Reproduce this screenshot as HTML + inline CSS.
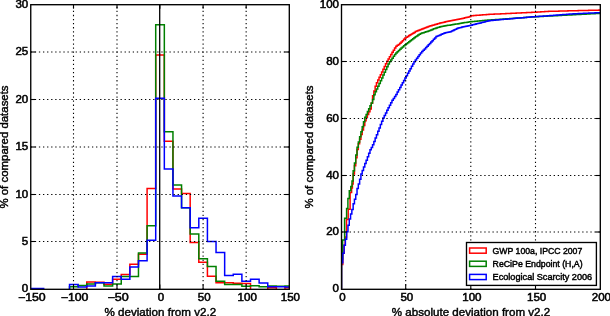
<!DOCTYPE html>
<html><head><meta charset="utf-8"><style>
html,body{margin:0;padding:0;background:#fff;}
body{width:610px;height:316px;overflow:hidden;}
svg{display:block;font-family:"Liberation Sans", sans-serif;}
</style></head><body>
<svg width="610" height="316" viewBox="0 0 610 316">
<rect width="610" height="316" fill="#fff"/>
<defs><clipPath id="cl"><rect x="30.75" y="4.70" width="258.55" height="284.60"/></clipPath><clipPath id="cr"><rect x="341.50" y="4.70" width="258.80" height="284.60"/></clipPath></defs>
<path clip-path="url(#cl)" d="M17.82,290.30 L17.82,290.30 L26.44,290.30 L26.44,290.30 L35.06,290.30 L35.06,290.30 L43.68,290.30 L43.68,290.30 L52.30,290.30 L52.30,290.30 L60.91,290.30 L60.91,290.30 L69.53,290.30 L69.53,290.30 L78.15,290.30 L78.15,290.30 L86.77,290.30 L86.77,282.11 L95.39,282.11 L95.39,282.30 L104.00,282.30 L104.00,284.19 L112.62,284.19 L112.62,279.36 L121.24,279.36 L121.24,274.44 L129.86,274.44 L129.86,264.22 L138.47,264.22 L138.47,254.28 L147.09,254.28 L147.09,188.48 L155.71,188.48 L155.71,55.00 L164.33,55.00 L164.33,141.14 L172.95,141.14 L172.95,189.05 L181.56,189.05 L181.56,193.50 L190.18,193.50 L190.18,242.44 L198.80,242.44 L198.80,262.23 L207.42,262.23 L207.42,276.33 L216.04,276.33 L216.04,282.77 L224.66,282.77 L224.66,282.77 L233.27,282.77 L233.27,283.24 L241.89,283.24 L241.89,283.53 L250.51,283.53 L250.51,290.30 L259.13,290.30 L259.13,290.30 L267.75,290.30 L267.75,287.69 L276.36,287.69 L276.36,290.30 L284.98,290.30 L284.98,287.69 L293.60,287.69 L293.60,287.69 L302.22,287.69 L302.22,290.30" fill="none" stroke="#ff0000" stroke-width="1.5"/>
<path clip-path="url(#cl)" d="M17.82,290.30 L17.82,290.30 L26.44,290.30 L26.44,290.30 L35.06,290.30 L35.06,290.30 L43.68,290.30 L43.68,290.30 L52.30,290.30 L52.30,290.30 L60.91,290.30 L60.91,290.30 L69.53,290.30 L69.53,286.75 L78.15,286.75 L78.15,285.52 L86.77,285.52 L86.77,283.91 L95.39,283.91 L95.39,282.77 L104.00,282.77 L104.00,286.08 L112.62,286.08 L112.62,283.91 L121.24,283.91 L121.24,276.62 L129.86,276.62 L129.86,276.62 L138.47,276.62 L138.47,253.04 L147.09,253.04 L147.09,225.87 L155.71,225.87 L155.71,24.70 L164.33,24.70 L164.33,131.68 L172.95,131.68 L172.95,185.07 L181.56,185.07 L181.56,207.70 L190.18,207.70 L190.18,233.92 L198.80,233.92 L198.80,258.72 L207.42,258.72 L207.42,266.49 L216.04,266.49 L216.04,281.26 L224.66,281.26 L224.66,284.48 L233.27,284.48 L233.27,284.48 L241.89,284.48 L241.89,286.18 L250.51,286.18 L250.51,285.80 L259.13,285.80 L259.13,286.75 L267.75,286.75 L267.75,285.99 L276.36,285.99 L276.36,286.27 L284.98,286.27 L284.98,285.99 L293.60,285.99 L293.60,285.99 L302.22,285.99 L302.22,290.30" fill="none" stroke="#008000" stroke-width="1.5"/>
<path clip-path="url(#cl)" d="M17.82,290.30 L17.82,288.45 L26.44,288.45 L26.44,288.45 L35.06,288.45 L35.06,288.45 L43.68,288.45 L43.68,290.30 L52.30,290.30 L52.30,290.30 L60.91,290.30 L60.91,290.30 L69.53,290.30 L69.53,284.57 L78.15,284.57 L78.15,286.94 L86.77,286.94 L86.77,285.99 L95.39,285.99 L95.39,282.77 L104.00,282.77 L104.00,282.77 L112.62,282.77 L112.62,276.43 L121.24,276.43 L121.24,279.27 L129.86,279.27 L129.86,267.06 L138.47,267.06 L138.47,260.71 L147.09,260.71 L147.09,240.17 L155.71,240.17 L155.71,98.35 L164.33,98.35 L164.33,168.88 L172.95,168.88 L172.95,196.05 L181.56,196.05 L181.56,207.70 L190.18,207.70 L190.18,227.86 L198.80,227.86 L198.80,218.21 L207.42,218.21 L207.42,241.49 L216.04,241.49 L216.04,252.48 L224.66,252.48 L224.66,275.58 L233.27,275.58 L233.27,274.16 L241.89,274.16 L241.89,281.26 L250.51,281.26 L250.51,279.17 L259.13,279.17 L259.13,282.96 L267.75,282.96 L267.75,286.65 L276.36,286.65 L276.36,286.65 L284.98,286.65 L284.98,286.94 L293.60,286.94 L293.60,286.94 L302.22,286.94 L302.22,290.30" fill="none" stroke="#0000ff" stroke-width="1.5"/>
<line x1="73.50" y1="289.50" x2="73.50" y2="4.70" stroke="#000" stroke-width="1.1" stroke-dasharray="1.3 2.78"/>
<line x1="117.00" y1="289.50" x2="117.00" y2="4.70" stroke="#000" stroke-width="1.1" stroke-dasharray="1.3 2.78"/>
<line x1="203.10" y1="289.50" x2="203.10" y2="4.70" stroke="#000" stroke-width="1.1" stroke-dasharray="1.3 2.78"/>
<line x1="246.15" y1="289.50" x2="246.15" y2="4.70" stroke="#000" stroke-width="1.1" stroke-dasharray="1.3 2.78"/>
<line x1="30.75" y1="241.50" x2="289.30" y2="241.50" stroke="#000" stroke-width="1.1" stroke-dasharray="1.3 2.78"/>
<line x1="30.75" y1="194.50" x2="289.30" y2="194.50" stroke="#000" stroke-width="1.1" stroke-dasharray="1.3 2.78"/>
<line x1="30.75" y1="147.00" x2="289.30" y2="147.00" stroke="#000" stroke-width="1.1" stroke-dasharray="1.3 2.78"/>
<line x1="30.75" y1="99.50" x2="289.30" y2="99.50" stroke="#000" stroke-width="1.1" stroke-dasharray="1.3 2.78"/>
<line x1="30.75" y1="52.00" x2="289.30" y2="52.00" stroke="#000" stroke-width="1.1" stroke-dasharray="1.3 2.78"/>
<line x1="159.70" y1="289.30" x2="159.70" y2="4.70" stroke="#000" stroke-width="1.3"/>
<line x1="73.50" y1="289.30" x2="73.50" y2="284.50" stroke="#000" stroke-width="1.1"/>
<line x1="73.50" y1="4.70" x2="73.50" y2="8.70" stroke="#000" stroke-width="1.1"/>
<line x1="117.00" y1="289.30" x2="117.00" y2="284.50" stroke="#000" stroke-width="1.1"/>
<line x1="117.00" y1="4.70" x2="117.00" y2="8.70" stroke="#000" stroke-width="1.1"/>
<line x1="159.85" y1="289.30" x2="159.85" y2="284.50" stroke="#000" stroke-width="1.1"/>
<line x1="159.85" y1="4.70" x2="159.85" y2="8.70" stroke="#000" stroke-width="1.1"/>
<line x1="203.10" y1="289.30" x2="203.10" y2="284.50" stroke="#000" stroke-width="1.1"/>
<line x1="203.10" y1="4.70" x2="203.10" y2="8.70" stroke="#000" stroke-width="1.1"/>
<line x1="246.15" y1="289.30" x2="246.15" y2="284.50" stroke="#000" stroke-width="1.1"/>
<line x1="246.15" y1="4.70" x2="246.15" y2="8.70" stroke="#000" stroke-width="1.1"/>
<line x1="30.75" y1="241.50" x2="35.55" y2="241.50" stroke="#000" stroke-width="1.1"/>
<line x1="289.30" y1="241.50" x2="284.50" y2="241.50" stroke="#000" stroke-width="1.1"/>
<line x1="30.75" y1="194.50" x2="35.55" y2="194.50" stroke="#000" stroke-width="1.1"/>
<line x1="289.30" y1="194.50" x2="284.50" y2="194.50" stroke="#000" stroke-width="1.1"/>
<line x1="30.75" y1="147.00" x2="35.55" y2="147.00" stroke="#000" stroke-width="1.1"/>
<line x1="289.30" y1="147.00" x2="284.50" y2="147.00" stroke="#000" stroke-width="1.1"/>
<line x1="30.75" y1="99.50" x2="35.55" y2="99.50" stroke="#000" stroke-width="1.1"/>
<line x1="289.30" y1="99.50" x2="284.50" y2="99.50" stroke="#000" stroke-width="1.1"/>
<line x1="30.75" y1="52.00" x2="35.55" y2="52.00" stroke="#000" stroke-width="1.1"/>
<line x1="289.30" y1="52.00" x2="284.50" y2="52.00" stroke="#000" stroke-width="1.1"/>
<rect x="30.75" y="4.70" width="258.55" height="284.60" fill="none" stroke="#000" stroke-width="1.35"/>
<path clip-path="url(#cr)" d="M341.50,288.83 L341.50,264.40 L342.80,264.40 L342.80,253.30 L344.10,253.30 L344.10,245.30 L345.20,245.30 L345.20,237.00 L346.50,237.00 L346.50,219.50 L348.20,219.50 L348.20,209.30 L350.10,209.30 L350.10,192.40 L351.60,192.40 L351.60,188.00 L352.40,188.00 L352.40,184.00 L353.15,184.00 L353.15,173.92 L354.44,173.92 L354.44,165.81 L355.73,165.81 L355.73,157.69 L357.03,157.69 L357.03,149.57 L358.32,149.57 L358.32,143.78 L359.62,143.78 L359.62,139.20 L360.91,139.20 L360.91,134.62 L362.20,134.62 L362.20,130.04 L363.50,130.04 L363.50,125.45 L364.79,125.45 L364.79,120.87 L366.09,120.87 L366.09,117.15 L367.38,117.15 L367.38,114.46 L368.67,114.46 L368.67,111.77 L369.97,111.77 L369.97,109.08 L371.26,109.08 L371.26,103.23 L372.56,103.23 L372.56,95.71 L373.85,95.71 L373.85,90.96 L375.14,90.96 L375.14,86.34 L376.44,86.34 L376.44,82.78 L377.73,82.78 L377.73,80.07 L379.03,80.07 L379.03,77.37 L380.32,77.37 L380.32,74.66 L381.61,74.66 L381.61,71.96 L382.91,71.96 L382.91,69.25 L384.20,69.25 L384.20,66.55 L385.50,66.55 L385.50,63.84 L386.79,63.84 L386.79,61.21 L388.08,61.21 L388.08,58.99 L389.38,58.99 L389.38,56.78 L390.67,56.78 L390.67,54.57 L391.97,54.57 L391.97,52.35 L393.26,52.35 L393.26,50.14 L394.55,50.14 L394.55,47.92 L395.85,47.92 L395.85,46.19 L397.14,46.19 L397.14,45.34 L398.44,45.34 L398.44,44.50 L399.73,44.50 L399.73,43.34 L401.02,43.34 L401.02,42.01 L402.32,42.01 L402.32,40.68 L403.61,40.68 L403.61,39.36 L404.91,39.36 L404.91,38.03 L406.20,38.03 L406.20,37.20 L407.49,37.20 L407.49,36.40 L408.79,36.40 L408.79,35.61 L410.08,35.61 L410.08,34.81 L411.38,34.81 L411.38,34.01 L412.67,34.01 L412.67,33.21 L413.96,33.21 L413.96,32.42 L415.26,32.42 L415.26,31.62 L416.55,31.62 L416.55,31.03 L417.85,31.03 L417.85,30.52 L419.14,30.52 L419.14,30.00 L420.43,30.00 L420.43,29.48 L421.73,29.48 L421.73,28.97 L423.02,28.97 L423.02,28.45 L424.32,28.45 L424.32,27.93 L425.61,27.93 L425.61,27.42 L426.90,27.42 L426.90,26.90 L428.20,26.90 L428.20,26.51 L429.49,26.51 L429.49,26.12 L430.79,26.12 L430.79,25.74 L432.08,25.74 L432.08,25.35 L433.37,25.35 L433.37,24.97 L434.67,24.97 L434.67,24.58 L435.96,24.58 L435.96,24.20 L437.26,24.20 L437.26,23.81 L438.55,23.81 L438.55,23.43 L439.84,23.43 L439.84,23.07 L441.14,23.07 L441.14,22.76 L442.43,22.76 L442.43,22.45 L443.73,22.45 L443.73,22.14 L445.02,22.14 L445.02,21.83 L446.31,21.83 L446.31,21.56 L447.61,21.56 L447.61,21.29 L448.90,21.29 L448.90,21.03 L450.20,21.03 L450.20,20.77 L451.49,20.77 L451.49,20.50 L452.78,20.50 L452.78,20.24 L454.08,20.24 L454.08,19.98 L455.37,19.98 L455.37,19.71 L456.67,19.71 L456.67,19.45 L457.96,19.45 L457.96,19.18 L459.25,19.18 L459.25,18.92 L460.55,18.92 L460.55,18.66 L461.84,18.66 L461.84,18.39 L463.14,18.39 L463.14,18.13 L464.43,18.13 L464.43,17.86 L465.72,17.86 L465.72,17.60 L467.02,17.60 L467.02,17.34 L468.31,17.34 L468.31,17.07 L469.61,17.07 L469.61,16.44 L470.90,16.44 L470.90,15.74 L472.19,15.74 L472.19,15.64 L473.49,15.64 L473.49,15.55 L474.78,15.55 L474.78,15.45 L476.08,15.45 L476.08,15.35 L477.37,15.35 L477.37,15.25 L478.66,15.25 L478.66,15.15 L479.96,15.15 L479.96,15.06 L481.25,15.06 L481.25,14.96 L482.55,14.96 L482.55,14.86 L483.84,14.86 L483.84,14.76 L485.13,14.76 L485.13,14.66 L486.43,14.66 L486.43,14.57 L487.72,14.57 L487.72,14.47 L489.02,14.47 L489.02,14.37 L490.31,14.37 L490.31,14.31 L491.60,14.31 L491.60,14.25 L492.90,14.25 L492.90,14.19 L494.19,14.19 L494.19,14.12 L495.49,14.12 L495.49,14.06 L496.78,14.06 L496.78,14.00 L498.07,14.00 L498.07,13.94 L499.37,13.94 L499.37,13.88 L500.66,13.88 L500.66,13.82 L501.96,13.82 L501.96,13.76 L503.25,13.76 L503.25,13.70 L504.54,13.70 L504.54,13.64 L505.84,13.64 L505.84,13.58 L507.13,13.58 L507.13,13.52 L508.43,13.52 L508.43,13.45 L509.72,13.45 L509.72,13.39 L511.01,13.39 L511.01,13.33 L512.31,13.33 L512.31,13.27 L513.60,13.27 L513.60,13.21 L514.90,13.21 L514.90,13.15 L516.19,13.15 L516.19,13.09 L517.48,13.09 L517.48,13.03 L518.78,13.03 L518.78,12.97 L520.07,12.97 L520.07,12.91 L521.37,12.91 L521.37,12.85 L522.66,12.85 L522.66,12.78 L523.95,12.78 L523.95,12.72 L525.25,12.72 L525.25,12.66 L526.54,12.66 L526.54,12.60 L527.84,12.60 L527.84,12.54 L529.13,12.54 L529.13,12.48 L530.42,12.48 L530.42,12.42 L531.72,12.42 L531.72,12.36 L533.01,12.36 L533.01,12.30 L534.31,12.30 L534.31,12.24 L535.60,12.24 L535.60,12.15 L536.89,12.15 L536.89,12.07 L538.19,12.07 L538.19,11.98 L539.48,11.98 L539.48,11.90 L540.78,11.90 L540.78,11.81 L542.07,11.81 L542.07,11.73 L543.36,11.73 L543.36,11.64 L544.66,11.64 L544.66,11.56 L545.95,11.56 L545.95,11.47 L547.25,11.47 L547.25,11.39 L548.54,11.39 L548.54,11.35 L549.83,11.35 L549.83,11.32 L551.13,11.32 L551.13,11.29 L552.42,11.29 L552.42,11.25 L553.72,11.25 L553.72,11.22 L555.01,11.22 L555.01,11.19 L556.30,11.19 L556.30,11.16 L557.60,11.16 L557.60,11.13 L558.89,11.13 L558.89,11.09 L560.19,11.09 L560.19,11.06 L561.48,11.06 L561.48,11.03 L562.77,11.03 L562.77,11.00 L564.07,11.00 L564.07,10.97 L565.36,10.97 L565.36,10.93 L566.66,10.93 L566.66,10.90 L567.95,10.90 L567.95,10.87 L569.24,10.87 L569.24,10.84 L570.54,10.84 L570.54,10.81 L571.83,10.81 L571.83,10.77 L573.13,10.77 L573.13,10.74 L574.42,10.74 L574.42,10.71 L575.71,10.71 L575.71,10.68 L577.01,10.68 L577.01,10.65 L578.30,10.65 L578.30,10.61 L579.60,10.61 L579.60,10.58 L580.89,10.58 L580.89,10.55 L582.18,10.55 L582.18,10.52 L583.48,10.52 L583.48,10.49 L584.77,10.49 L584.77,10.45 L586.07,10.45 L586.07,10.42 L587.36,10.42 L587.36,10.39 L588.65,10.39 L588.65,10.36 L589.95,10.36 L589.95,10.33 L591.24,10.33 L591.24,10.30 L592.54,10.30 L592.54,10.26 L593.83,10.26 L593.83,10.23 L595.12,10.23 L595.12,10.20 L596.42,10.20 L596.42,10.17 L597.71,10.17 L597.71,10.14 L599.01,10.14 L599.01,10.10 L600.30,10.10 L600.30,10.10 L601.59,10.10 L601.59,10.10 L602.89,10.10" fill="none" stroke="#ff0000" stroke-width="1.5"/>
<path clip-path="url(#cr)" d="M341.50,288.83 L341.50,259.00 L342.60,259.00 L342.60,240.00 L344.60,240.00 L344.60,218.20 L346.60,218.20 L346.60,208.40 L347.90,208.40 L347.90,198.60 L349.30,198.60 L349.30,190.70 L350.80,190.70 L350.80,186.50 L352.00,186.50 L352.00,181.00 L353.15,181.00 L353.15,170.80 L354.44,170.80 L354.44,162.91 L355.73,162.91 L355.73,155.02 L357.03,155.02 L357.03,147.13 L358.32,147.13 L358.32,141.94 L359.62,141.94 L359.62,136.86 L360.91,136.86 L360.91,131.79 L362.20,131.79 L362.20,126.72 L363.50,126.72 L363.50,121.64 L364.79,121.64 L364.79,117.35 L366.09,117.35 L366.09,114.46 L367.38,114.46 L367.38,111.58 L368.67,111.58 L368.67,108.69 L369.97,108.69 L369.97,105.80 L371.26,105.80 L371.26,102.92 L372.56,102.92 L372.56,99.47 L373.85,99.47 L373.85,94.66 L375.14,94.66 L375.14,91.87 L376.44,91.87 L376.44,89.08 L377.73,89.08 L377.73,86.28 L379.03,86.28 L379.03,83.49 L380.32,83.49 L380.32,80.70 L381.61,80.70 L381.61,77.91 L382.91,77.91 L382.91,75.11 L384.20,75.11 L384.20,72.32 L385.50,72.32 L385.50,69.53 L386.79,69.53 L386.79,66.74 L388.08,66.74 L388.08,63.95 L389.38,63.95 L389.38,61.87 L390.67,61.87 L390.67,60.02 L391.97,60.02 L391.97,58.18 L393.26,58.18 L393.26,56.34 L394.55,56.34 L394.55,54.50 L395.85,54.50 L395.85,52.88 L397.14,52.88 L397.14,51.69 L398.44,51.69 L398.44,50.50 L399.73,50.50 L399.73,49.31 L401.02,49.31 L401.02,48.12 L402.32,48.12 L402.32,46.93 L403.61,46.93 L403.61,45.77 L404.91,45.77 L404.91,44.82 L406.20,44.82 L406.20,43.83 L407.49,43.83 L407.49,42.82 L408.79,42.82 L408.79,41.82 L410.08,41.82 L410.08,40.82 L411.38,40.82 L411.38,39.81 L412.67,39.81 L412.67,38.81 L413.96,38.81 L413.96,37.81 L415.26,37.81 L415.26,36.81 L416.55,36.81 L416.55,35.90 L417.85,35.90 L417.85,35.11 L419.14,35.11 L419.14,34.32 L420.43,34.32 L420.43,33.53 L421.73,33.53 L421.73,33.06 L423.02,33.06 L423.02,32.65 L424.32,32.65 L424.32,32.24 L425.61,32.24 L425.61,31.82 L426.90,31.82 L426.90,31.41 L428.20,31.41 L428.20,31.00 L429.49,31.00 L429.49,30.59 L430.79,30.59 L430.79,30.01 L432.08,30.01 L432.08,29.42 L433.37,29.42 L433.37,28.84 L434.67,28.84 L434.67,28.42 L435.96,28.42 L435.96,28.00 L437.26,28.00 L437.26,27.57 L438.55,27.57 L438.55,27.15 L439.84,27.15 L439.84,26.79 L441.14,26.79 L441.14,26.54 L442.43,26.54 L442.43,26.29 L443.73,26.29 L443.73,26.04 L445.02,26.04 L445.02,25.80 L446.31,25.80 L446.31,25.58 L447.61,25.58 L447.61,25.36 L448.90,25.36 L448.90,25.15 L450.20,25.15 L450.20,24.94 L451.49,24.94 L451.49,24.73 L452.78,24.73 L452.78,24.52 L454.08,24.52 L454.08,24.31 L455.37,24.31 L455.37,24.09 L456.67,24.09 L456.67,23.88 L457.96,23.88 L457.96,23.67 L459.25,23.67 L459.25,23.46 L460.55,23.46 L460.55,23.25 L461.84,23.25 L461.84,23.04 L463.14,23.04 L463.14,22.83 L464.43,22.83 L464.43,22.61 L465.72,22.61 L465.72,22.40 L467.02,22.40 L467.02,22.19 L468.31,22.19 L468.31,21.98 L469.61,21.98 L469.61,21.77 L470.90,21.77 L470.90,21.64 L472.19,21.64 L472.19,21.52 L473.49,21.52 L473.49,21.40 L474.78,21.40 L474.78,21.27 L476.08,21.27 L476.08,21.15 L477.37,21.15 L477.37,21.03 L478.66,21.03 L478.66,20.91 L479.96,20.91 L479.96,20.79 L481.25,20.79 L481.25,20.67 L482.55,20.67 L482.55,20.54 L483.84,20.54 L483.84,20.42 L485.13,20.42 L485.13,20.30 L486.43,20.30 L486.43,20.18 L487.72,20.18 L487.72,20.06 L489.02,20.06 L489.02,19.97 L490.31,19.97 L490.31,19.90 L491.60,19.90 L491.60,19.82 L492.90,19.82 L492.90,19.74 L494.19,19.74 L494.19,19.66 L495.49,19.66 L495.49,19.58 L496.78,19.58 L496.78,19.50 L498.07,19.50 L498.07,19.42 L499.37,19.42 L499.37,19.34 L500.66,19.34 L500.66,19.25 L501.96,19.25 L501.96,19.15 L503.25,19.15 L503.25,19.06 L504.54,19.06 L504.54,18.97 L505.84,18.97 L505.84,18.87 L507.13,18.87 L507.13,18.78 L508.43,18.78 L508.43,18.68 L509.72,18.68 L509.72,18.59 L511.01,18.59 L511.01,18.49 L512.31,18.49 L512.31,18.40 L513.60,18.40 L513.60,18.30 L514.90,18.30 L514.90,18.21 L516.19,18.21 L516.19,18.11 L517.48,18.11 L517.48,18.02 L518.78,18.02 L518.78,17.92 L520.07,17.92 L520.07,17.83 L521.37,17.83 L521.37,17.73 L522.66,17.73 L522.66,17.64 L523.95,17.64 L523.95,17.55 L525.25,17.55 L525.25,17.45 L526.54,17.45 L526.54,17.36 L527.84,17.36 L527.84,17.26 L529.13,17.26 L529.13,17.17 L530.42,17.17 L530.42,17.07 L531.72,17.07 L531.72,16.98 L533.01,16.98 L533.01,16.88 L534.31,16.88 L534.31,16.79 L535.60,16.79 L535.60,16.72 L536.89,16.72 L536.89,16.65 L538.19,16.65 L538.19,16.58 L539.48,16.58 L539.48,16.51 L540.78,16.51 L540.78,16.44 L542.07,16.44 L542.07,16.38 L543.36,16.38 L543.36,16.31 L544.66,16.31 L544.66,16.24 L545.95,16.24 L545.95,16.17 L547.25,16.17 L547.25,16.10 L548.54,16.10 L548.54,16.03 L549.83,16.03 L549.83,15.97 L551.13,15.97 L551.13,15.90 L552.42,15.90 L552.42,15.83 L553.72,15.83 L553.72,15.76 L555.01,15.76 L555.01,15.69 L556.30,15.69 L556.30,15.63 L557.60,15.63 L557.60,15.56 L558.89,15.56 L558.89,15.49 L560.19,15.49 L560.19,15.42 L561.48,15.42 L561.48,15.35 L562.77,15.35 L562.77,15.28 L564.07,15.28 L564.07,15.22 L565.36,15.22 L565.36,15.15 L566.66,15.15 L566.66,15.08 L567.95,15.08 L567.95,15.01 L569.24,15.01 L569.24,14.94 L570.54,14.94 L570.54,14.88 L571.83,14.88 L571.83,14.81 L573.13,14.81 L573.13,14.74 L574.42,14.74 L574.42,14.67 L575.71,14.67 L575.71,14.60 L577.01,14.60 L577.01,14.53 L578.30,14.53 L578.30,14.47 L579.60,14.47 L579.60,14.40 L580.89,14.40 L580.89,14.33 L582.18,14.33 L582.18,14.26 L583.48,14.26 L583.48,14.19 L584.77,14.19 L584.77,14.13 L586.07,14.13 L586.07,14.06 L587.36,14.06 L587.36,13.99 L588.65,13.99 L588.65,13.92 L589.95,13.92 L589.95,13.85 L591.24,13.85 L591.24,13.78 L592.54,13.78 L592.54,13.72 L593.83,13.72 L593.83,13.65 L595.12,13.65 L595.12,13.58 L596.42,13.58 L596.42,13.51 L597.71,13.51 L597.71,13.44 L599.01,13.44 L599.01,13.38 L600.30,13.38 L600.30,13.37 L601.59,13.37 L601.59,13.37 L602.89,13.37" fill="none" stroke="#008000" stroke-width="1.5"/>
<path clip-path="url(#cr)" d="M341.50,288.83 L341.50,262.70 L342.79,262.70 L342.79,253.30 L344.09,253.30 L344.09,245.30 L345.38,245.30 L345.38,239.30 L346.68,239.30 L346.68,231.70 L347.97,231.70 L347.97,225.30 L349.26,225.30 L349.26,219.00 L350.56,219.00 L350.56,214.10 L351.85,214.10 L351.85,209.50 L353.15,209.50 L353.15,203.70 L354.44,203.70 L354.44,199.30 L355.73,199.30 L355.73,194.50 L357.03,194.50 L357.03,188.50 L358.32,188.50 L358.32,184.00 L359.62,184.00 L359.62,179.14 L360.91,179.14 L360.91,173.98 L362.20,173.98 L362.20,170.52 L363.50,170.52 L363.50,167.05 L364.79,167.05 L364.79,163.59 L366.09,163.59 L366.09,160.13 L367.38,160.13 L367.38,156.66 L368.67,156.66 L368.67,153.20 L369.97,153.20 L369.97,149.80 L371.26,149.80 L371.26,147.46 L372.56,147.46 L372.56,144.76 L373.85,144.76 L373.85,141.40 L375.14,141.40 L375.14,138.04 L376.44,138.04 L376.44,134.68 L377.73,134.68 L377.73,131.31 L379.03,131.31 L379.03,127.95 L380.32,127.95 L380.32,124.59 L381.61,124.59 L381.61,121.23 L382.91,121.23 L382.91,117.99 L384.20,117.99 L384.20,115.44 L385.50,115.44 L385.50,112.88 L386.79,112.88 L386.79,110.32 L388.08,110.32 L388.08,107.77 L389.38,107.77 L389.38,105.21 L390.67,105.21 L390.67,102.65 L391.97,102.65 L391.97,100.21 L393.26,100.21 L393.26,98.39 L394.55,98.39 L394.55,96.57 L395.85,96.57 L395.85,94.41 L397.14,94.41 L397.14,92.08 L398.44,92.08 L398.44,89.74 L399.73,89.74 L399.73,87.40 L401.02,87.40 L401.02,85.06 L402.32,85.06 L402.32,82.72 L403.61,82.72 L403.61,80.38 L404.91,80.38 L404.91,78.05 L406.20,78.05 L406.20,75.71 L407.49,75.71 L407.49,73.37 L408.79,73.37 L408.79,71.03 L410.08,71.03 L410.08,68.69 L411.38,68.69 L411.38,66.35 L412.67,66.35 L412.67,64.01 L413.96,64.01 L413.96,61.68 L415.26,61.68 L415.26,59.91 L416.55,59.91 L416.55,58.19 L417.85,58.19 L417.85,56.46 L419.14,56.46 L419.14,54.73 L420.43,54.73 L420.43,53.01 L421.73,53.01 L421.73,51.60 L423.02,51.60 L423.02,50.25 L424.32,50.25 L424.32,48.90 L425.61,48.90 L425.61,47.55 L426.90,47.55 L426.90,46.20 L428.20,46.20 L428.20,44.86 L429.49,44.86 L429.49,43.46 L430.79,43.46 L430.79,42.07 L432.08,42.07 L432.08,40.67 L433.37,40.67 L433.37,39.27 L434.67,39.27 L434.67,37.88 L435.96,37.88 L435.96,36.51 L437.26,36.51 L437.26,35.99 L438.55,35.99 L438.55,35.46 L439.84,35.46 L439.84,34.92 L441.14,34.92 L441.14,34.37 L442.43,34.37 L442.43,33.81 L443.73,33.81 L443.73,33.26 L445.02,33.26 L445.02,32.70 L446.31,32.70 L446.31,32.38 L447.61,32.38 L447.61,32.15 L448.90,32.15 L448.90,31.92 L450.20,31.92 L450.20,31.68 L451.49,31.68 L451.49,31.04 L452.78,31.04 L452.78,30.41 L454.08,30.41 L454.08,29.77 L455.37,29.77 L455.37,29.13 L456.67,29.13 L456.67,28.50 L457.96,28.50 L457.96,27.94 L459.25,27.94 L459.25,27.67 L460.55,27.67 L460.55,27.39 L461.84,27.39 L461.84,27.12 L463.14,27.12 L463.14,26.84 L464.43,26.84 L464.43,26.57 L465.72,26.57 L465.72,26.29 L467.02,26.29 L467.02,26.02 L468.31,26.02 L468.31,25.74 L469.61,25.74 L469.61,25.47 L470.90,25.47 L470.90,25.15 L472.19,25.15 L472.19,24.83 L473.49,24.83 L473.49,24.50 L474.78,24.50 L474.78,24.18 L476.08,24.18 L476.08,23.86 L477.37,23.86 L477.37,23.54 L478.66,23.54 L478.66,23.22 L479.96,23.22 L479.96,22.89 L481.25,22.89 L481.25,22.57 L482.55,22.57 L482.55,22.25 L483.84,22.25 L483.84,21.93 L485.13,21.93 L485.13,21.61 L486.43,21.61 L486.43,21.29 L487.72,21.29 L487.72,20.96 L489.02,20.96 L489.02,20.64 L490.31,20.64 L490.31,20.51 L491.60,20.51 L491.60,20.40 L492.90,20.40 L492.90,20.28 L494.19,20.28 L494.19,20.17 L495.49,20.17 L495.49,20.06 L496.78,20.06 L496.78,19.94 L498.07,19.94 L498.07,19.83 L499.37,19.83 L499.37,19.72 L500.66,19.72 L500.66,19.60 L501.96,19.60 L501.96,19.49 L503.25,19.49 L503.25,19.37 L504.54,19.37 L504.54,19.26 L505.84,19.26 L505.84,19.15 L507.13,19.15 L507.13,19.03 L508.43,19.03 L508.43,18.92 L509.72,18.92 L509.72,18.81 L511.01,18.81 L511.01,18.69 L512.31,18.69 L512.31,18.58 L513.60,18.58 L513.60,18.47 L514.90,18.47 L514.90,18.35 L516.19,18.35 L516.19,18.24 L517.48,18.24 L517.48,18.12 L518.78,18.12 L518.78,18.01 L520.07,18.01 L520.07,17.90 L521.37,17.90 L521.37,17.78 L522.66,17.78 L522.66,17.67 L523.95,17.67 L523.95,17.56 L525.25,17.56 L525.25,17.44 L526.54,17.44 L526.54,17.33 L527.84,17.33 L527.84,17.22 L529.13,17.22 L529.13,17.10 L530.42,17.10 L530.42,16.99 L531.72,16.99 L531.72,16.87 L533.01,16.87 L533.01,16.76 L534.31,16.76 L534.31,16.65 L535.60,16.65 L535.60,16.56 L536.89,16.56 L536.89,16.47 L538.19,16.47 L538.19,16.39 L539.48,16.39 L539.48,16.30 L540.78,16.30 L540.78,16.22 L542.07,16.22 L542.07,16.13 L543.36,16.13 L543.36,16.05 L544.66,16.05 L544.66,15.96 L545.95,15.96 L545.95,15.88 L547.25,15.88 L547.25,15.79 L548.54,15.79 L548.54,15.69 L549.83,15.69 L549.83,15.59 L551.13,15.59 L551.13,15.50 L552.42,15.50 L552.42,15.40 L553.72,15.40 L553.72,15.30 L555.01,15.30 L555.01,15.20 L556.30,15.20 L556.30,15.10 L557.60,15.10 L557.60,15.00 L558.89,15.00 L558.89,14.90 L560.19,14.90 L560.19,14.80 L561.48,14.80 L561.48,14.70 L562.77,14.70 L562.77,14.60 L564.07,14.60 L564.07,14.50 L565.36,14.50 L565.36,14.40 L566.66,14.40 L566.66,14.30 L567.95,14.30 L567.95,14.20 L569.24,14.20 L569.24,14.10 L570.54,14.10 L570.54,14.00 L571.83,14.00 L571.83,13.90 L573.13,13.90 L573.13,13.80 L574.42,13.80 L574.42,13.74 L575.71,13.74 L575.71,13.69 L577.01,13.69 L577.01,13.63 L578.30,13.63 L578.30,13.57 L579.60,13.57 L579.60,13.52 L580.89,13.52 L580.89,13.46 L582.18,13.46 L582.18,13.40 L583.48,13.40 L583.48,13.35 L584.77,13.35 L584.77,13.29 L586.07,13.29 L586.07,13.23 L587.36,13.23 L587.36,13.18 L588.65,13.18 L588.65,13.12 L589.95,13.12 L589.95,13.06 L591.24,13.06 L591.24,13.00 L592.54,13.00 L592.54,12.95 L593.83,12.95 L593.83,12.89 L595.12,12.89 L595.12,12.83 L596.42,12.83 L596.42,12.78 L597.71,12.78 L597.71,12.72 L599.01,12.72 L599.01,12.66 L600.30,12.66 L600.30,12.66 L601.59,12.66 L601.59,12.66 L602.89,12.66" fill="none" stroke="#0000ff" stroke-width="1.5"/>
<line x1="405.70" y1="289.50" x2="405.70" y2="4.70" stroke="#000" stroke-width="1.1" stroke-dasharray="1.3 2.78"/>
<line x1="470.80" y1="289.50" x2="470.80" y2="4.70" stroke="#000" stroke-width="1.1" stroke-dasharray="1.3 2.78"/>
<line x1="535.50" y1="289.50" x2="535.50" y2="4.70" stroke="#000" stroke-width="1.1" stroke-dasharray="1.3 2.78"/>
<line x1="341.50" y1="232.00" x2="600.30" y2="232.00" stroke="#000" stroke-width="1.1" stroke-dasharray="1.3 2.78"/>
<line x1="341.50" y1="175.50" x2="600.30" y2="175.50" stroke="#000" stroke-width="1.1" stroke-dasharray="1.3 2.78"/>
<line x1="341.50" y1="118.50" x2="600.30" y2="118.50" stroke="#000" stroke-width="1.1" stroke-dasharray="1.3 2.78"/>
<line x1="341.50" y1="61.50" x2="600.30" y2="61.50" stroke="#000" stroke-width="1.1" stroke-dasharray="1.3 2.78"/>
<line x1="405.70" y1="289.30" x2="405.70" y2="284.50" stroke="#000" stroke-width="1.1"/>
<line x1="405.70" y1="4.70" x2="405.70" y2="8.70" stroke="#000" stroke-width="1.1"/>
<line x1="470.80" y1="289.30" x2="470.80" y2="284.50" stroke="#000" stroke-width="1.1"/>
<line x1="470.80" y1="4.70" x2="470.80" y2="8.70" stroke="#000" stroke-width="1.1"/>
<line x1="535.50" y1="289.30" x2="535.50" y2="284.50" stroke="#000" stroke-width="1.1"/>
<line x1="535.50" y1="4.70" x2="535.50" y2="8.70" stroke="#000" stroke-width="1.1"/>
<line x1="341.50" y1="232.00" x2="346.30" y2="232.00" stroke="#000" stroke-width="1.1"/>
<line x1="600.30" y1="232.00" x2="595.50" y2="232.00" stroke="#000" stroke-width="1.1"/>
<line x1="341.50" y1="175.50" x2="346.30" y2="175.50" stroke="#000" stroke-width="1.1"/>
<line x1="600.30" y1="175.50" x2="595.50" y2="175.50" stroke="#000" stroke-width="1.1"/>
<line x1="341.50" y1="118.50" x2="346.30" y2="118.50" stroke="#000" stroke-width="1.1"/>
<line x1="600.30" y1="118.50" x2="595.50" y2="118.50" stroke="#000" stroke-width="1.1"/>
<line x1="341.50" y1="61.50" x2="346.30" y2="61.50" stroke="#000" stroke-width="1.1"/>
<line x1="600.30" y1="61.50" x2="595.50" y2="61.50" stroke="#000" stroke-width="1.1"/>
<rect x="341.50" y="4.70" width="258.80" height="284.60" fill="none" stroke="#000" stroke-width="1.35"/>
<rect x="466.5" y="242.5" width="129.90" height="42.90" fill="#fff" stroke="#000" stroke-width="1.35"/>
<rect x="469.6" y="248.00" width="16.6" height="5.2" fill="#fff" stroke="#ff0000" stroke-width="1.5"/>
<rect x="469.6" y="261.20" width="16.6" height="5.2" fill="#fff" stroke="#008000" stroke-width="1.5"/>
<rect x="469.6" y="274.40" width="16.6" height="5.2" fill="#fff" stroke="#0000ff" stroke-width="1.5"/>
<g style="will-change:transform">
<text x="31.85" y="300.80" text-anchor="middle" font-size="10.3" font-weight="normal" stroke="#000" stroke-width="0.5" textLength="27.74" lengthAdjust="spacingAndGlyphs">−150</text>
<text x="74.60" y="300.80" text-anchor="middle" font-size="10.3" font-weight="normal" stroke="#000" stroke-width="0.5" textLength="27.74" lengthAdjust="spacingAndGlyphs">−100</text>
<text x="118.10" y="300.80" text-anchor="middle" font-size="10.3" font-weight="normal" stroke="#000" stroke-width="0.5" textLength="21.31" lengthAdjust="spacingAndGlyphs">−50</text>
<text x="160.95" y="300.80" text-anchor="middle" font-size="10.3" font-weight="normal" stroke="#000" stroke-width="0.5" textLength="6.43" lengthAdjust="spacingAndGlyphs">0</text>
<text x="204.20" y="300.80" text-anchor="middle" font-size="10.3" font-weight="normal" stroke="#000" stroke-width="0.5" textLength="12.85" lengthAdjust="spacingAndGlyphs">50</text>
<text x="247.25" y="300.80" text-anchor="middle" font-size="10.3" font-weight="normal" stroke="#000" stroke-width="0.5" textLength="19.28" lengthAdjust="spacingAndGlyphs">100</text>
<text x="290.39" y="300.80" text-anchor="middle" font-size="10.3" font-weight="normal" stroke="#000" stroke-width="0.5" textLength="19.28" lengthAdjust="spacingAndGlyphs">150</text>
<text x="28.25" y="292.13" text-anchor="end" font-size="10.3" font-weight="normal" stroke="#000" stroke-width="0.5" textLength="6.43" lengthAdjust="spacingAndGlyphs">0</text>
<text x="28.25" y="244.80" text-anchor="end" font-size="10.3" font-weight="normal" stroke="#000" stroke-width="0.5" textLength="6.43" lengthAdjust="spacingAndGlyphs">5</text>
<text x="28.25" y="197.80" text-anchor="end" font-size="10.3" font-weight="normal" stroke="#000" stroke-width="0.5" textLength="12.85" lengthAdjust="spacingAndGlyphs">10</text>
<text x="28.25" y="150.30" text-anchor="end" font-size="10.3" font-weight="normal" stroke="#000" stroke-width="0.5" textLength="12.85" lengthAdjust="spacingAndGlyphs">15</text>
<text x="28.25" y="102.80" text-anchor="end" font-size="10.3" font-weight="normal" stroke="#000" stroke-width="0.5" textLength="12.85" lengthAdjust="spacingAndGlyphs">20</text>
<text x="28.25" y="55.30" text-anchor="end" font-size="10.3" font-weight="normal" stroke="#000" stroke-width="0.5" textLength="12.85" lengthAdjust="spacingAndGlyphs">25</text>
<text x="28.25" y="8.12" text-anchor="end" font-size="10.3" font-weight="normal" stroke="#000" stroke-width="0.5" textLength="12.85" lengthAdjust="spacingAndGlyphs">30</text>
<text x="342.60" y="300.80" text-anchor="middle" font-size="10.3" font-weight="normal" stroke="#000" stroke-width="0.5" textLength="6.43" lengthAdjust="spacingAndGlyphs">0</text>
<text x="406.80" y="300.80" text-anchor="middle" font-size="10.3" font-weight="normal" stroke="#000" stroke-width="0.5" textLength="12.85" lengthAdjust="spacingAndGlyphs">50</text>
<text x="471.90" y="300.80" text-anchor="middle" font-size="10.3" font-weight="normal" stroke="#000" stroke-width="0.5" textLength="19.28" lengthAdjust="spacingAndGlyphs">100</text>
<text x="536.60" y="300.80" text-anchor="middle" font-size="10.3" font-weight="normal" stroke="#000" stroke-width="0.5" textLength="19.28" lengthAdjust="spacingAndGlyphs">150</text>
<text x="601.40" y="300.80" text-anchor="middle" font-size="10.3" font-weight="normal" stroke="#000" stroke-width="0.5" textLength="19.28" lengthAdjust="spacingAndGlyphs">200</text>
<text x="339.00" y="292.13" text-anchor="end" font-size="10.3" font-weight="normal" stroke="#000" stroke-width="0.5" textLength="6.43" lengthAdjust="spacingAndGlyphs">0</text>
<text x="339.00" y="235.30" text-anchor="end" font-size="10.3" font-weight="normal" stroke="#000" stroke-width="0.5" textLength="12.85" lengthAdjust="spacingAndGlyphs">20</text>
<text x="339.00" y="178.80" text-anchor="end" font-size="10.3" font-weight="normal" stroke="#000" stroke-width="0.5" textLength="12.85" lengthAdjust="spacingAndGlyphs">40</text>
<text x="339.00" y="121.80" text-anchor="end" font-size="10.3" font-weight="normal" stroke="#000" stroke-width="0.5" textLength="12.85" lengthAdjust="spacingAndGlyphs">60</text>
<text x="339.00" y="64.80" text-anchor="end" font-size="10.3" font-weight="normal" stroke="#000" stroke-width="0.5" textLength="12.85" lengthAdjust="spacingAndGlyphs">80</text>
<text x="339.00" y="7.96" text-anchor="end" font-size="10.3" font-weight="normal" stroke="#000" stroke-width="0.5" textLength="19.28" lengthAdjust="spacingAndGlyphs">100</text>
<text x="160.30" y="316.30" text-anchor="middle" font-size="10.3" font-weight="normal" stroke="#000" stroke-width="0.4" textLength="111.72" lengthAdjust="spacingAndGlyphs">% deviation from v2.2</text>
<text x="471.00" y="316.30" text-anchor="middle" font-size="10.3" font-weight="normal" stroke="#000" stroke-width="0.4" textLength="158.35" lengthAdjust="spacingAndGlyphs">% absolute deviation from v2.2</text>
<text transform="translate(8.30,147.00) rotate(-90)" text-anchor="middle" font-size="10.3" font-weight="normal" stroke="#000" stroke-width="0.4" textLength="123.14" lengthAdjust="spacingAndGlyphs">% of compared datasets</text>
<text transform="translate(313.00,147.00) rotate(-90)" text-anchor="middle" font-size="10.3" font-weight="normal" stroke="#000" stroke-width="0.4" textLength="123.14" lengthAdjust="spacingAndGlyphs">% of compared datasets</text>
<text x="492.60" y="253.70" text-anchor="start" font-size="8.8" font-weight="normal" stroke="#000" stroke-width="0.45" textLength="89.64" lengthAdjust="spacingAndGlyphs">GWP 100a, IPCC 2007</text>
<text x="492.60" y="266.90" text-anchor="start" font-size="8.8" font-weight="normal" stroke="#000" stroke-width="0.45" textLength="90.01" lengthAdjust="spacingAndGlyphs">ReCiPe Endpoint (H,A)</text>
<text x="492.60" y="280.10" text-anchor="start" font-size="8.8" font-weight="normal" stroke="#000" stroke-width="0.45" textLength="99.55" lengthAdjust="spacingAndGlyphs">Ecological Scarcity 2006</text>
</g>
</svg>
</body></html>
